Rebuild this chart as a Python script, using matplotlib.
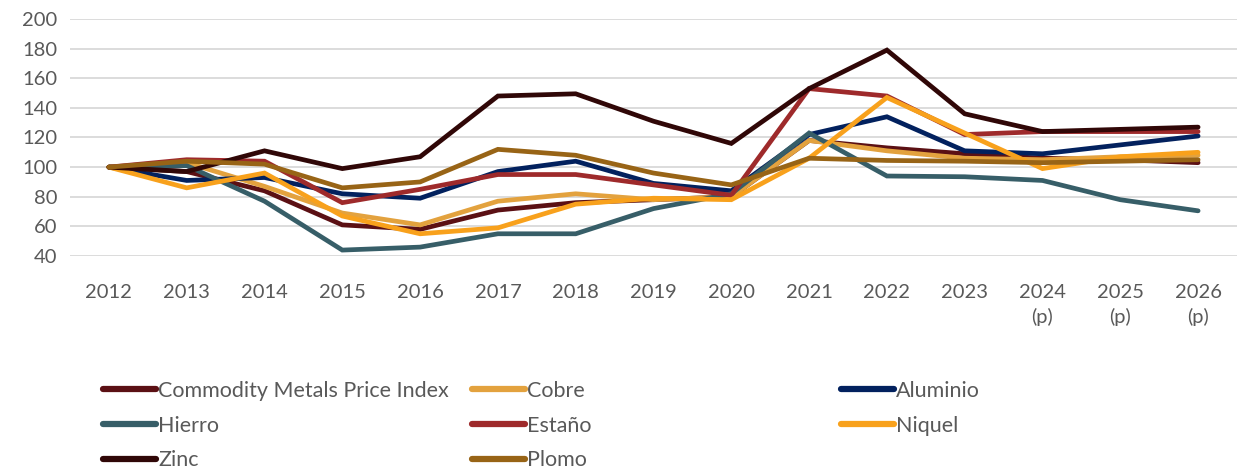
import matplotlib.pyplot as plt

years = ['2012', '2013', '2014', '2015', '2016', '2017', '2018', '2019',
         '2020', '2021', '2022', '2023', '2024\n(p)', '2025\n(p)', '2026\n(p)']

cmpi = [100, 97, 84, 61, 58, 71, 76, 78, 80, 118, 113, 109, 106, 105, 103]
cobre = [100, 103, 87, 69, 61, 77, 82, 78, 80, 118, 111, 106, 105, 107, 108]
aluminio = [100, 91, 93, 82, 79, 97, 104, 89, 84, 122, 134, 111, 109, 115, 121]
hierro = [100, 101, 77, 44, 46, 55, 55, 72, 82, 123, 94, 93.5, 91, 78, 70.5]
estano = [100, 105, 104, 76, 85, 95, 95, 88, 81, 153, 148, 122, 124, 124, 124]
niquel = [100, 86, 96, 67, 55, 59, 75, 79, 78, 106, 147, 123, 99, 107, 110]
zinc = [100, 97, 111, 99, 107, 148, 149.5, 131, 116, 153, 179, 136, 124, 125.5, 127]
plomo = [100, 104, 102, 86, 90, 112, 108, 96, 88, 106, 104.5, 104, 103, 104, 105]

series = [
    ('Commodity Metals Price Index', cmpi, '#5b1014'),
    ('Cobre', cobre, '#e3a23e'),
    ('Aluminio', aluminio, '#02215e'),
    ('Hierro', hierro, '#375e68'),
    ('Estaño', estano, '#9e2a2b'),
    ('Niquel', niquel, '#f8a11c'),
    ('Zinc', zinc, '#300707'),
    ('Plomo', plomo, '#986416'),
]

plt.rcParams['font.family'] = ['Lato', 'DejaVu Sans']
txt = '#595959'

fig = plt.figure(figsize=(12.39, 4.72), dpi=100)
ax = fig.add_axes([70 / 1239, 1 - 256 / 472, (1237 - 70) / 1239, (256 - 19) / 472])

x = list(range(len(years)))
lines = {}
for name, vals, col in series:
    ln, = ax.plot(x, vals, color=col, lw=3.4, solid_capstyle='round', solid_joinstyle='miter')
    lines[name] = ln

ax.set_ylim(40, 200)
ax.set_yticks(range(40, 201, 20))
ax.set_xlim(-0.5, len(years) - 0.5)
ax.set_xticks(x)
ax.set_xticklabels(years)
ax.grid(axis='y', color='#d9d9d9', lw=1.3)
ax.set_axisbelow(True)
for s in ax.spines.values():
    s.set_visible(False)
ax.tick_params(length=0, labelsize=14.5, labelcolor=txt)
ax.tick_params(axis='x', pad=20)
ax.tick_params(axis='y', pad=9)
for lab in ax.get_xticklabels():
    lab.set_verticalalignment('top')
    lab.set_linespacing(1.45)

# legend in three columns, like the original
cols = [
    (['Commodity Metals Price Index', 'Hierro', 'Zinc'], 103),
    (['Cobre', 'Estaño', 'Plomo'], 472),
    (['Aluminio', 'Niquel'], 841),
]
for names, xpos in cols:
    leg = fig.legend([lines[n] for n in names], names, loc='upper left',
                     bbox_to_anchor=(xpos / 1239, 1 - 381 / 472), frameon=False,
                     fontsize=15.5, labelcolor=txt, handlelength=2.45, handletextpad=0.12,
                     labelspacing=0.68, borderpad=0, borderaxespad=0)
    for h in leg.get_lines():
        h.set_linewidth(4.5)

plt.savefig('out.png', dpi=100)
